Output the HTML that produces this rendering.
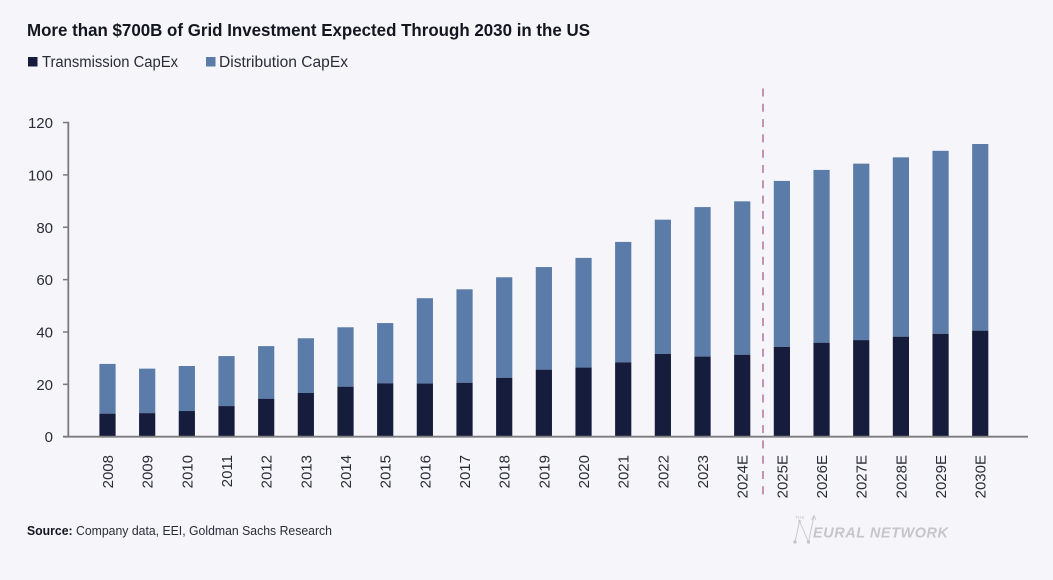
<!DOCTYPE html>
<html lang="en">
<head>
<meta charset="utf-8">
<title>Grid Investment Chart</title>
<style>
html,body{margin:0;padding:0;background:#f5f5fa;}
body{width:1053px;height:580px;overflow:hidden;}
svg{display:block;font-family:"Liberation Sans",sans-serif;}
</style>
</head>
<body>
<svg id="chart" width="1053" height="580" viewBox="0 0 1053 580" xmlns="http://www.w3.org/2000/svg">
  <rect x="0" y="0" width="1053" height="580" fill="#f5f5fa"/>
  <text x="27" y="36" font-size="17.5" font-weight="700" fill="#14161f" textLength="563" lengthAdjust="spacingAndGlyphs">More than $700B of Grid Investment Expected Through 2030 in the US</text>
  <g>
    <rect x="28" y="57" width="9.5" height="9.5" fill="#161c3c"/>
    <text x="42" y="67" font-size="15.5" fill="#2b2d36" textLength="136" lengthAdjust="spacingAndGlyphs">Transmission CapEx</text>
    <rect x="206" y="57" width="9.5" height="9.5" fill="#5b7ba8"/>
    <text x="219" y="67" font-size="15.5" fill="#2b2d36" textLength="129" lengthAdjust="spacingAndGlyphs">Distribution CapEx</text>
  </g>
  <g id="bars"></g>
  <g id="y-axis"></g>
  <g id="x-axis"></g>
  <line x1="763" y1="88.5" x2="763" y2="496" stroke="#b57ba6" stroke-width="1.6" stroke-dasharray="8 7.3"/>
  <text x="27" y="535" font-size="12.6" fill="#2b2d36" textLength="305" lengthAdjust="spacingAndGlyphs"><tspan font-weight="700" fill="#14161f">Source:</tspan> Company data, EEI, Goldman Sachs Research</text>
  <g fill="#c6c6ca" stroke="none">
    <text x="795" y="519" font-size="4.5" letter-spacing="0.3">THE</text>
    <path d="M795 542 L799.5 521 L808.5 542 L814 516 M811.6 520 L814 515.5 L816 520" fill="none" stroke="#c6c6ca" stroke-width="0.9"/>
    <circle cx="795" cy="542" r="1.7"/>
    <circle cx="799.5" cy="521" r="1.3"/>
    <circle cx="808.5" cy="542" r="1.7"/>
    <text x="813" y="537.5" font-size="14.5" font-weight="700" font-style="italic" textLength="135" lengthAdjust="spacing">EURAL NETWORK</text>
  </g>
</svg>
<script>
const categories = ['2008','2009','2010','2011','2012','2013','2014','2015','2016','2017','2018','2019','2020','2021','2022','2023','2024E','2025E','2026E','2027E','2028E','2029E','2030E'];
const transmission = [8.8,9.0,9.8,11.7,14.5,16.7,19.1,20.4,20.3,20.6,22.5,25.6,26.4,28.4,31.6,30.6,31.3,34.3,35.9,36.9,38.2,39.3,40.5];
const distribution = [19.0,17.0,17.2,19.1,20.1,20.9,22.7,23.0,32.6,35.7,38.4,39.2,41.9,46.0,51.3,57.1,58.6,63.4,66.0,67.4,68.5,69.9,71.3];
const yTicks = [0,20,40,60,80,100,120];

const NS = 'http://www.w3.org/2000/svg';
const baseY = 436.7, pxPerUnit = 2.618, firstX = 107.5, stepX = 39.67, barW = 16.2;
const yScale = v => baseY - v * pxPerUnit;
const xScale = i => firstX + i * stepX;
const TRANS_COLOR = '#161c3c', DIST_COLOR = '#5b7ba8', AXIS_COLOR = '#7c7c7c', TEXT_COLOR = '#2b2d36';

function make(tag, attrs, parent) {
  const el = document.createElementNS(NS, tag);
  for (const k in attrs) el.setAttribute(k, attrs[k]);
  parent.appendChild(el);
  return el;
}

const barsG = document.getElementById('bars');
const yG = document.getElementById('y-axis');
const xG = document.getElementById('x-axis');

categories.forEach((cat, i) => {
  const cx = xScale(i);
  const top1 = yScale(transmission[i]);
  const top2 = yScale(transmission[i] + distribution[i]);

  const dist = make('rect', {x: cx - barW / 2, y: top2, width: barW, height: top1 - top2, fill: DIST_COLOR}, barsG);
  
  

  const trans = make('rect', {x: cx - barW / 2, y: top1, width: barW, height: baseY - top1, fill: TRANS_COLOR}, barsG);
  
  

  const lx = cx + 5.5, ly = 455;
  const label = make('text', {x: lx, y: ly, 'font-size': 15, fill: TEXT_COLOR, 'text-anchor': 'end', transform: 'rotate(-90 ' + lx + ' ' + ly + ')'}, xG);
  label.textContent = cat;
  
  
});

const yLine = make('line', {x1: 68.3, x2: 68.3, y1: yScale(120) - 0.8, y2: baseY, stroke: AXIS_COLOR, 'stroke-width': 1.8}, yG);



yTicks.forEach(t => {
  const y = yScale(t);
  const tick = make('line', {x1: 63, x2: 68.3, y1: y, y2: y, stroke: AXIS_COLOR, 'stroke-width': 1.5}, yG);
  
  

  const label = make('text', {x: 53, y: y + 5.5, 'font-size': 15, fill: TEXT_COLOR, 'text-anchor': 'end'}, yG);
  label.textContent = t;
  
  
});

const xLine = make('line', {x1: 63, x2: 1028, y1: baseY, y2: baseY, stroke: AXIS_COLOR, 'stroke-width': 1.8}, xG);


</script>
</body>
</html>
